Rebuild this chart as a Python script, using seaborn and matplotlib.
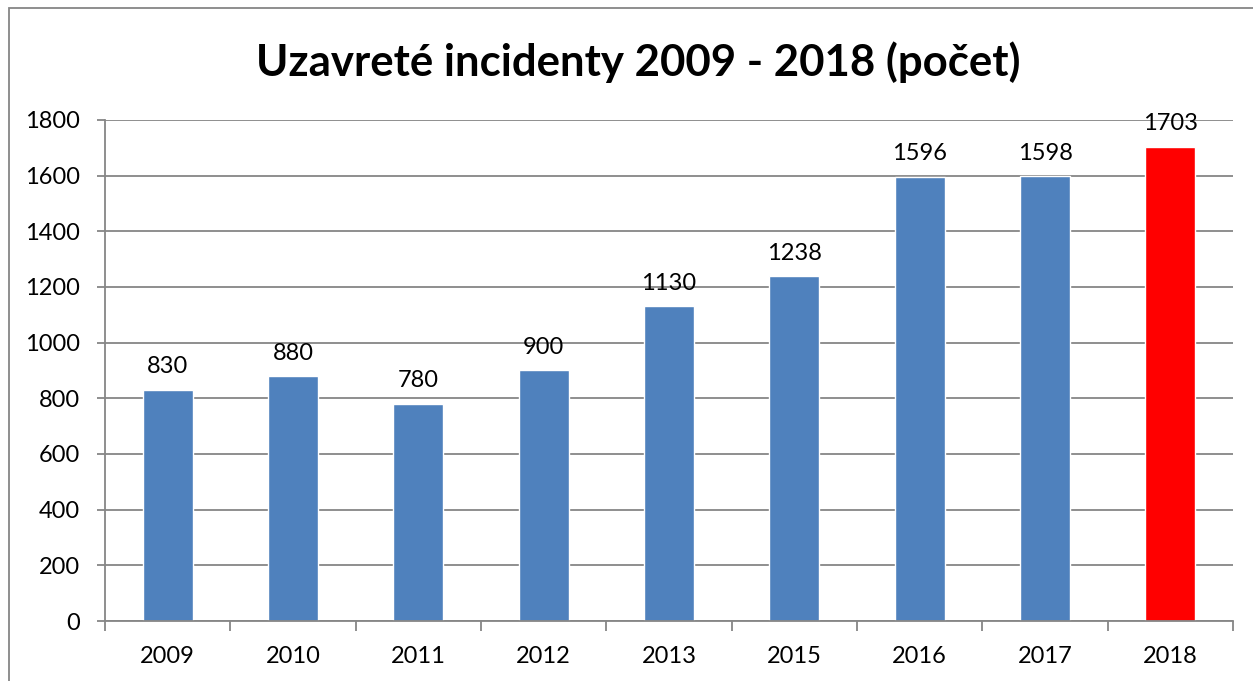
import matplotlib
matplotlib.use("Agg")
import matplotlib.pyplot as plt
import seaborn as sns
import pandas as pd
from matplotlib.patches import Rectangle

years = ["2009", "2010", "2011", "2012", "2013", "2015", "2016", "2017", "2018"]
counts = [830, 880, 780, 900, 1130, 1238, 1596, 1598, 1703]
colors = ["#4F81BD"] * 8 + ["#FF0000"]

df = pd.DataFrame({"rok": years, "pocet": counts})

sns.set_style("white")
plt.rcParams["font.family"] = ["Lato", "DejaVu Sans"]

fig = plt.figure(figsize=(12.53, 6.81), dpi=100)
ax = fig.add_axes([0.0838, 0.088, 0.9002, 0.736])

sns.barplot(data=df, x="rok", y="pocet", hue="rok", palette=colors,
            width=0.4, legend=False, ax=ax, saturation=1)

ax.set_ylim(0, 1800)
ax.set_xlim(-0.5, len(years) - 0.5)
ax.set_yticks(range(0, 1801, 200))
ax.yaxis.grid(True, color="#868686", linewidth=1.3)
ax.set_axisbelow(True)
for s in ["top", "right"]:
    ax.spines[s].set_visible(False)
for s in ["left", "bottom"]:
    ax.spines[s].set_color("#868686")
    ax.spines[s].set_linewidth(1.3)

ax.set_xlabel("")
ax.set_ylabel("")
ax.tick_params(axis="both", labelsize=17, colors="#868686", labelcolor="black",
               length=6, width=1.3, direction="out")
ax.tick_params(axis="y", pad=12)
ax.tick_params(axis="x", pad=18)
ax.set_xticks([i - 0.5 for i in range(len(years) + 1)], minor=True)
ax.tick_params(axis="x", which="major", length=0)
ax.tick_params(axis="x", which="minor", length=7, width=1.3, colors="#868686")
ax.yaxis.set_ticks_position("left")
ax.xaxis.set_ticks_position("bottom")

for i, v in enumerate(counts):
    ax.text(i, v + 45, str(v), ha="center", va="bottom", fontsize=17,
            color="black")

fig.text(0.509, 0.909, "Uzavreté incidenty 2009 - 2018 (počet)", ha="center",
         va="center", fontsize=31.5, fontweight="bold", color="black")

fig.patches.append(Rectangle((9 / 1253, -0.1), 1.2, 1.1 - 8 / 681,
                             transform=fig.transFigure, fill=False,
                             edgecolor="#868686", linewidth=1.3))

fig.savefig("out.png", dpi=100)
